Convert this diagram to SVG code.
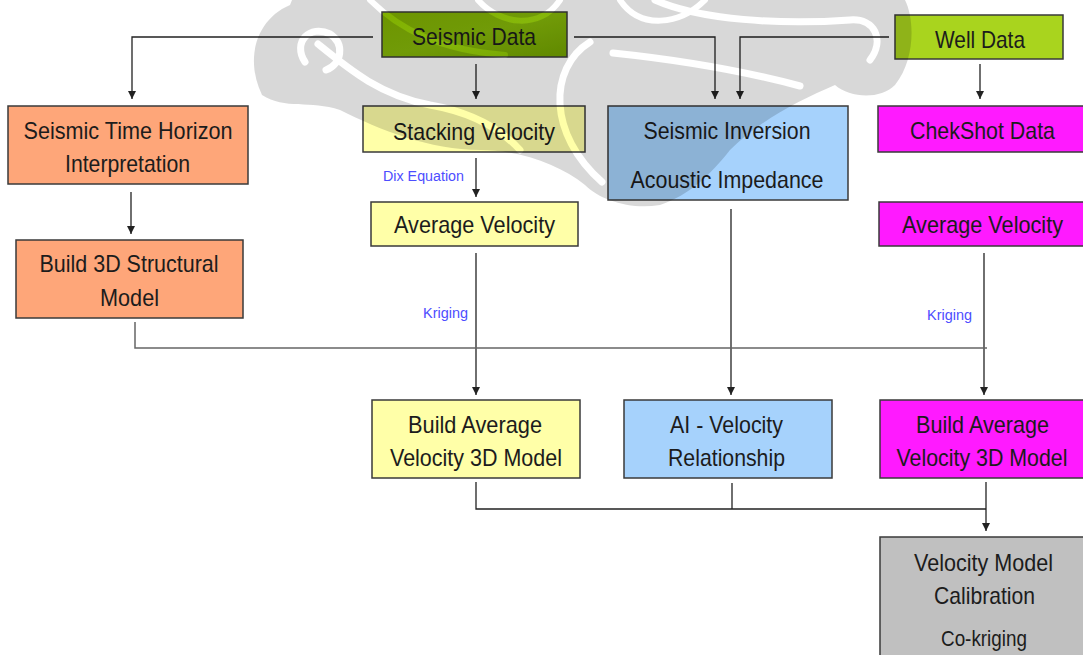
<svg xmlns="http://www.w3.org/2000/svg" width="1083" height="655" viewBox="0 0 1083 655">
<defs>
<style>
.box{stroke:#3a3a3a;stroke-width:1.5}
.t{font-family:"Liberation Sans",Arial,sans-serif;font-size:24px;fill:#1c1c1c;text-anchor:middle}
.lbl{font-family:"Liberation Sans",Arial,sans-serif;font-size:15.5px;fill:#4d4dff}
.c{fill:none;stroke:#222;stroke-width:1.3}
.g{fill:none;stroke:#666;stroke-width:1.5}
.gap{fill:none;stroke:#000;stroke-linecap:round}
</style>
<linearGradient id="green" x1="0" y1="0" x2="1" y2="1">
<stop offset="0" stop-color="#80b000"/><stop offset="0.5" stop-color="#86b70a"/><stop offset="1" stop-color="#72a200"/>
</linearGradient>
<marker id="ah" viewBox="0 0 10 10" refX="10" refY="5" markerWidth="10" markerHeight="8" markerUnits="userSpaceOnUse" orient="auto">
<path d="M0,0 L10,5 L0,10 Z" fill="#222"/>
</marker>
<mask id="wmmask" maskUnits="userSpaceOnUse" x="0" y="0" width="1083" height="655">
<path fill="#fff" d="M262 95 C245 60 255 20 290 5 L292 0 L905 0 C915 20 915 60 895 85 C880 100 850 98 835 85 C800 100 760 120 730 150 C710 175 690 195 660 205 C630 210 600 200 585 185 C560 165 520 150 480 150 C430 150 380 130 340 110 C310 100 285 110 262 95 Z"/>
<path class="gap" stroke-width="7" d="M305 62 C292 42 310 24 330 34 C345 44 342 64 326 70"/>
<path class="gap" stroke-width="7" d="M318 44 C350 70 380 95 430 105 C470 112 500 128 520 150"/>
<path class="gap" stroke-width="6" d="M370 0 C400 30 440 50 505 55"/>
<path class="gap" stroke-width="6" d="M478 0 C500 25 540 30 560 0"/>
<path class="gap" stroke-width="6" d="M705 0 C680 25 640 30 620 0"/>
<path class="gap" stroke-width="7" d="M590 42 C548 68 548 135 602 182"/>
<path class="gap" stroke-width="7" d="M613 53 C680 60 740 70 800 86"/>
<path class="gap" stroke-width="7" d="M655 0 C700 20 780 25 850 20 C875 18 885 40 870 60"/>
</mask>
</defs>
<rect width="1083" height="655" fill="#fff"/>

<g id="connectors">
<path class="c" d="M373 37 H132 V99" marker-end="url(#ah)"/>
<path class="c" d="M476 64 V99" marker-end="url(#ah)"/>
<path class="c" d="M574 37 H715 V99" marker-end="url(#ah)"/>
<path class="c" d="M889 37 H740 V99" marker-end="url(#ah)"/>
<path class="c" d="M980 64 V99" marker-end="url(#ah)"/>
<path class="c" d="M476 158 V197" marker-end="url(#ah)"/>
<path class="c" d="M131 192 V234" marker-end="url(#ah)"/>
<path class="c" d="M476 253 V395" marker-end="url(#ah)"/>
<path class="c" d="M731 209 V395" marker-end="url(#ah)"/>
<path class="c" d="M984 253 V395" marker-end="url(#ah)"/>
<path class="g" d="M135 322 V348 H987"/>
<path class="c" d="M476 482 V509 H986"/>
<path class="c" d="M732 483 V509"/>
<path class="c" d="M986 482 V531" marker-end="url(#ah)"/>
<text class="lbl" x="383" y="181" textLength="81" lengthAdjust="spacingAndGlyphs">Dix Equation</text>
<text class="lbl" x="423" y="318" textLength="45" lengthAdjust="spacingAndGlyphs">Kriging</text>
<text class="lbl" x="927" y="320" textLength="45" lengthAdjust="spacingAndGlyphs">Kriging</text>
</g>

<g id="seismic-data"><rect class="box" x="382" y="12" width="185" height="45" fill="url(#green)"/><text class="t" x="474" y="45" textLength="124" lengthAdjust="spacingAndGlyphs">Seismic Data</text></g>
<g id="well-data"><rect class="box" x="895" y="15" width="168" height="44" fill="#a9d41e"/><text class="t" x="980" y="48" textLength="90" lengthAdjust="spacingAndGlyphs">Well Data</text></g>
<g id="time-horizon"><rect class="box" x="8" y="106" width="240" height="78" fill="#fea679"/><text class="t" x="128" y="139" textLength="209" lengthAdjust="spacingAndGlyphs">Seismic Time Horizon</text><text class="t" x="127.5" y="172" textLength="125" lengthAdjust="spacingAndGlyphs">Interpretation</text></g>
<g id="structural-model"><rect class="box" x="16" y="240" width="227" height="78" fill="#fea679"/><text class="t" x="129" y="272" textLength="179" lengthAdjust="spacingAndGlyphs">Build 3D Structural</text><text class="t" x="129.5" y="306" textLength="59" lengthAdjust="spacingAndGlyphs">Model</text></g>
<g id="stacking-velocity"><rect class="box" x="363" y="106" width="222" height="46" fill="#ffffa8"/><text class="t" x="474" y="140" textLength="162" lengthAdjust="spacingAndGlyphs">Stacking Velocity</text></g>
<g id="seismic-inversion"><rect class="box" x="608" y="106" width="240" height="94" fill="#a6d2fc"/><text class="t" x="727" y="139" textLength="167" lengthAdjust="spacingAndGlyphs">Seismic Inversion</text><text class="t" x="727" y="188" textLength="193" lengthAdjust="spacingAndGlyphs">Acoustic Impedance</text></g>
<g id="checkshot"><rect class="box" x="878" y="106" width="210" height="46" fill="#ff1aff"/><text class="t" x="982.5" y="139" textLength="145" lengthAdjust="spacingAndGlyphs">ChekShot Data</text></g>
<g id="avg-vel-yellow"><rect class="box" x="371" y="202" width="207" height="44" fill="#ffffa8"/><text class="t" x="474.5" y="233" textLength="161" lengthAdjust="spacingAndGlyphs">Average Velocity</text></g>
<g id="avg-vel-magenta"><rect class="box" x="879" y="202" width="210" height="44" fill="#ff1aff"/><text class="t" x="982.5" y="233" textLength="161" lengthAdjust="spacingAndGlyphs">Average Velocity</text></g>
<g id="build-avg-yellow"><rect class="box" x="372" y="400" width="208" height="78" fill="#ffffa8"/><text class="t" x="475" y="433" textLength="134" lengthAdjust="spacingAndGlyphs">Build Average</text><text class="t" x="476" y="466" textLength="172" lengthAdjust="spacingAndGlyphs">Velocity 3D Model</text></g>
<g id="ai-velocity"><rect class="box" x="624" y="400" width="208" height="78" fill="#a6d2fc"/><text class="t" x="726.5" y="433" textLength="113" lengthAdjust="spacingAndGlyphs">AI - Velocity</text><text class="t" x="726.5" y="466" textLength="117" lengthAdjust="spacingAndGlyphs">Relationship</text></g>
<g id="build-avg-magenta"><rect class="box" x="880" y="400" width="209" height="78" fill="#ff1aff"/><text class="t" x="982.5" y="433" textLength="133" lengthAdjust="spacingAndGlyphs">Build Average</text><text class="t" x="982" y="466" textLength="171" lengthAdjust="spacingAndGlyphs">Velocity 3D Model</text></g>
<g id="calibration"><rect class="box" x="880" y="537" width="209" height="125" fill="#c0c0c0"/><text class="t" x="983.5" y="571" textLength="139" lengthAdjust="spacingAndGlyphs">Velocity Model</text><text class="t" x="984.5" y="604" textLength="101" lengthAdjust="spacingAndGlyphs">Calibration</text><text class="t" x="984" y="646" style="font-size:22px" textLength="86" lengthAdjust="spacingAndGlyphs">Co-kriging</text></g>

<g id="watermark">
<rect x="0" y="0" width="1083" height="260" fill="#000" opacity="0.15" mask="url(#wmmask)"/>
</g>
</svg>
